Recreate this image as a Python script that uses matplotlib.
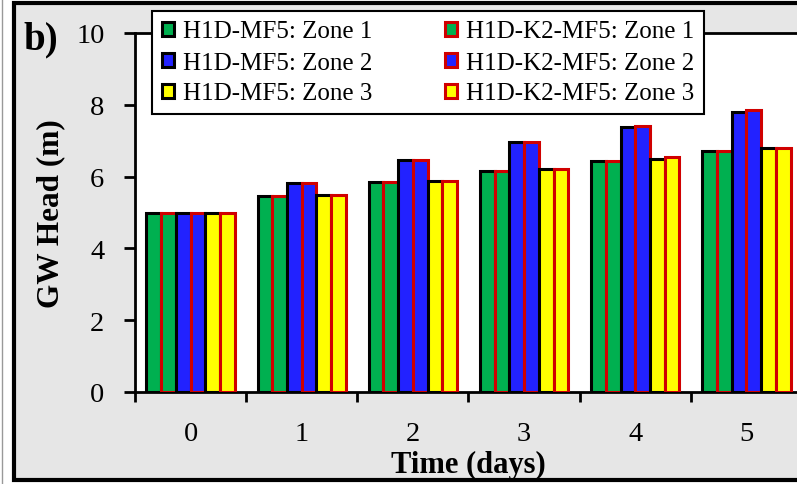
import numpy as np
import matplotlib.pyplot as plt
from matplotlib.patches import Rectangle
from matplotlib.lines import Line2D

plt.rcParams['font.family'] = 'Liberation Serif'

days = [0, 1, 2, 3, 4, 5]

# groundwater head (m) per zone, two model set-ups
mf5_z1 = [5.0, 5.45, 5.86, 6.16, 6.43, 6.71]
k2_z1 = [5.0, 5.45, 5.86, 6.16, 6.44, 6.71]
mf5_z2 = [5.0, 5.81, 6.45, 6.95, 7.37, 7.81]
k2_z2 = [5.0, 5.81, 6.45, 6.97, 7.41, 7.85]
mf5_z3 = [5.0, 5.48, 5.87, 6.22, 6.50, 6.79]
k2_z3 = [5.0, 5.48, 5.87, 6.22, 6.54, 6.79]

series = [
    ('H1D-MF5: Zone 1', mf5_z1, '#00b050', 'black'),
    ('H1D-K2-MF5: Zone 1', k2_z1, '#00b050', '#d00000'),
    ('H1D-MF5: Zone 2', mf5_z2, '#2222ff', 'black'),
    ('H1D-K2-MF5: Zone 2', k2_z2, '#2222ff', '#d00000'),
    ('H1D-MF5: Zone 3', mf5_z3, '#ffff00', 'black'),
    ('H1D-K2-MF5: Zone 3', k2_z3, '#ffff00', '#d00000'),
]

W, H = 797, 485
fig = plt.figure(figsize=(W / 100, H / 100), dpi=100, facecolor='white')

# grey panel with a heavy black frame
fig.add_artist(Rectangle((14 / W, 4 / H), 1.0, 477 / H, transform=fig.transFigure,
                         facecolor='#e6e6e6', edgecolor='black', lw=3, zorder=-5))
fig.add_artist(Line2D([2 / W, 2 / W], [0, 1], transform=fig.transFigure,
                      color='#999999', lw=1, zorder=-5))

ax = fig.add_axes([135 / W, 92 / H, 667 / W, 359 / H])
ax.set_zorder(2)
ax.set_facecolor('white')

x = np.arange(len(days))
w = 0.1325
bars = []
for i, (name, vals, fc, ec) in enumerate(series):
    b = ax.bar(x + (i - 2.5) * w, vals, width=w, color=fc, edgecolor=ec,
               linewidth=2.2, label=name, zorder=3)
    bars.append(b)

ax.set_xlim(-0.5, 5.5)
ax.set_ylim(0, 10)
ax.set_yticks([0, 2, 4, 6, 8, 10])
ax.set_xticks(np.arange(-0.5, 6.0, 1.0))
ax.set_xticklabels([])
ax.set_xticks(x, minor=True)
ax.set_xticklabels([str(d) for d in days], minor=True)
ax.tick_params(axis='x', which='major', direction='out', length=7, width=2)
ax.tick_params(axis='x', which='minor', length=0, pad=21, labelsize=20.5)
ax.tick_params(axis='y', direction='out', length=8, width=2, labelsize=20.5, pad=14)

for side in ['left', 'bottom', 'top']:
    ax.spines[side].set_linewidth(2)
ax.spines['right'].set_visible(False)

ax.set_xlabel('Time (days)', fontsize=22, fontweight='bold', labelpad=3)
ax.set_ylabel('GW Head (m)', fontsize=22.5, fontweight='bold', labelpad=8)

fig.text(23 / W, 1 - 40 / H, 'b)', fontsize=28, fontweight='bold', va='center', ha='left')

# legend columns: H1D-MF5 on the left, H1D-K2-MF5 on the right
order = [0, 2, 4, 1, 3, 5]
leg = ax.legend([bars[k] for k in order], [series[k][0] for k in order],
                loc='upper left', bbox_to_anchor=(152 / W, 1 - 12 / H),
                bbox_transform=fig.transFigure, ncol=2, fontsize=18,
                frameon=True, fancybox=False, edgecolor='black', framealpha=1,
                handlelength=0.5, handleheight=0.5, handletextpad=0.35,
                columnspacing=2.9, labelspacing=0.36, borderpad=0.38,
                borderaxespad=0)
leg.get_frame().set_linewidth(1.5)
leg.set_zorder(5)

fig.savefig('out.png', dpi=100, facecolor=fig.get_facecolor())
